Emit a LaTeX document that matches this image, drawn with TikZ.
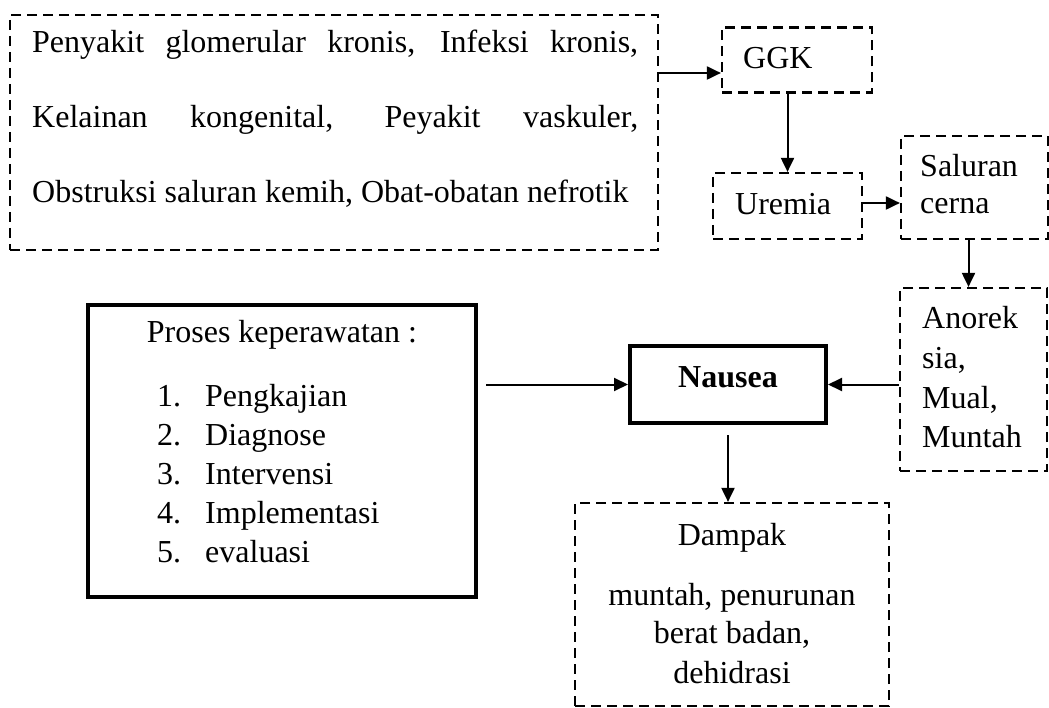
\documentclass[tikz,border=0pt]{standalone}
\usepackage{fontspec}
\setmainfont{Liberation Serif}
\usetikzlibrary{arrows.meta,calc}
\begin{document}
\begin{tikzpicture}[x=1pt,y=-1pt,
  dbox/.style={draw,dash pattern=on 10pt off 6pt,line width=2.2pt,inner sep=0pt},
  sbox/.style={draw,line width=4pt,inner sep=0pt},
  txt/.style={anchor=base west,inner sep=0pt,font=\fontsize{32}{38}\selectfont},
  ctxt/.style={anchor=base,inner sep=0pt,font=\fontsize{32}{38}\selectfont},
  conn/.style={line width=2pt,-{Triangle[length=14pt,width=13pt]}}]
\useasboundingbox (0,0) rectangle (1049,708);
% boxes
\node[dbox,minimum width=648pt,minimum height=235pt] (big) at (334,132.5) {};
\node[dbox,minimum width=150pt,minimum height=65pt] (ggk) at (797,60) {};
\node[dbox,minimum width=149pt,minimum height=66pt] (uremia) at (787.5,206) {};
\node[dbox,minimum width=147pt,minimum height=103pt] (saluran) at (974.5,187.5) {};
\node[dbox,minimum width=147pt,minimum height=183pt] (anorek) at (973.5,379.5) {};
\node[sbox,minimum width=196pt,minimum height=77pt] (nausea) at (728,384.5) {};
\node[sbox,minimum width=388pt,minimum height=292pt] (proses) at (282,451) {};
\node[dbox,minimum width=314pt,minimum height=203pt] (dampak) at (732,604.5) {};
% texts
\node[txt] (b1) at (32,53) {\makebox[606pt][s]{Penyakit glomerular kronis, Infeksi kronis,}};
\node[txt] (b2) at (32,128) {\makebox[606pt][s]{Kelainan kongenital, Peyakit vaskuler,}};
\node[txt] (b3) at (32,203) {Obstruksi saluran kemih, Obat-obatan nefrotik};
\node[txt] (tggk) at (743,69) {GGK};
\node[txt] (tur) at (735,215) {Uremia};
\node[txt] (ts1) at (920,177) {Saluran};
\node[txt] (ts2) at (920,214) {cerna};
\node[txt] (ta1) at (922,329) {Anorek};
\node[txt] (ta2) at (922,368) {sia,};
\node[txt] (ta3) at (922,408) {Mual,};
\node[txt] (ta4) at (922,447) {Muntah};
\node[ctxt,font=\fontsize{32}{38}\selectfont\bfseries] (tn) at (728,387) {Nausea};
\node[ctxt] (tp) at (282,343) {Proses keperawatan :};
\node[txt] (n1) at (157,406) {1.};
\node[txt] (n2) at (157,445) {2.};
\node[txt] (n3) at (157,484) {3.};
\node[txt] (n4) at (157,523) {4.};
\node[txt] (n5) at (157,562) {5.};
\node[txt] (i1) at (205,406) {Pengkajian};
\node[txt] (i2) at (205,445) {Diagnose};
\node[txt] (i3) at (205,484) {Intervensi};
\node[txt] (i4) at (205,523) {Implementasi};
\node[txt] (i5) at (205,562) {evaluasi};
\node[ctxt] (d1) at (732,545) {Dampak};
\node[ctxt] (d2) at (732,605) {muntah, penurunan};
\node[ctxt] (d3) at (732,643) {berat badan,};
\node[ctxt] (d4) at (732,683) {dehidrasi};
% connectors
\coordinate (g1) at ([yshift=-13pt]ggk.west);
\draw[conn] (big.east |- g1) -- (g1);
\draw[conn] (ggk.south -| uremia.north) -- (uremia.north);
\coordinate (u1) at ([yshift=3pt]uremia.east);
\draw[conn] (u1) -- (u1 -| saluran.west);
\coordinate (s1) at ([xshift=-6pt]saluran.south);
\draw[conn] (s1) -- (s1 |- anorek.north);
\draw[conn] (anorek.west |- nausea.east) -- (nausea.east);
\coordinate (p1) at ([xshift=8pt]proses.east |- nausea.west);
\draw[conn] (p1) -- (nausea.west);
\coordinate (na) at ([yshift=-10pt]nausea.south);
\draw[conn] (na) -- (na |- dampak.north);
\end{tikzpicture}
\end{document}
